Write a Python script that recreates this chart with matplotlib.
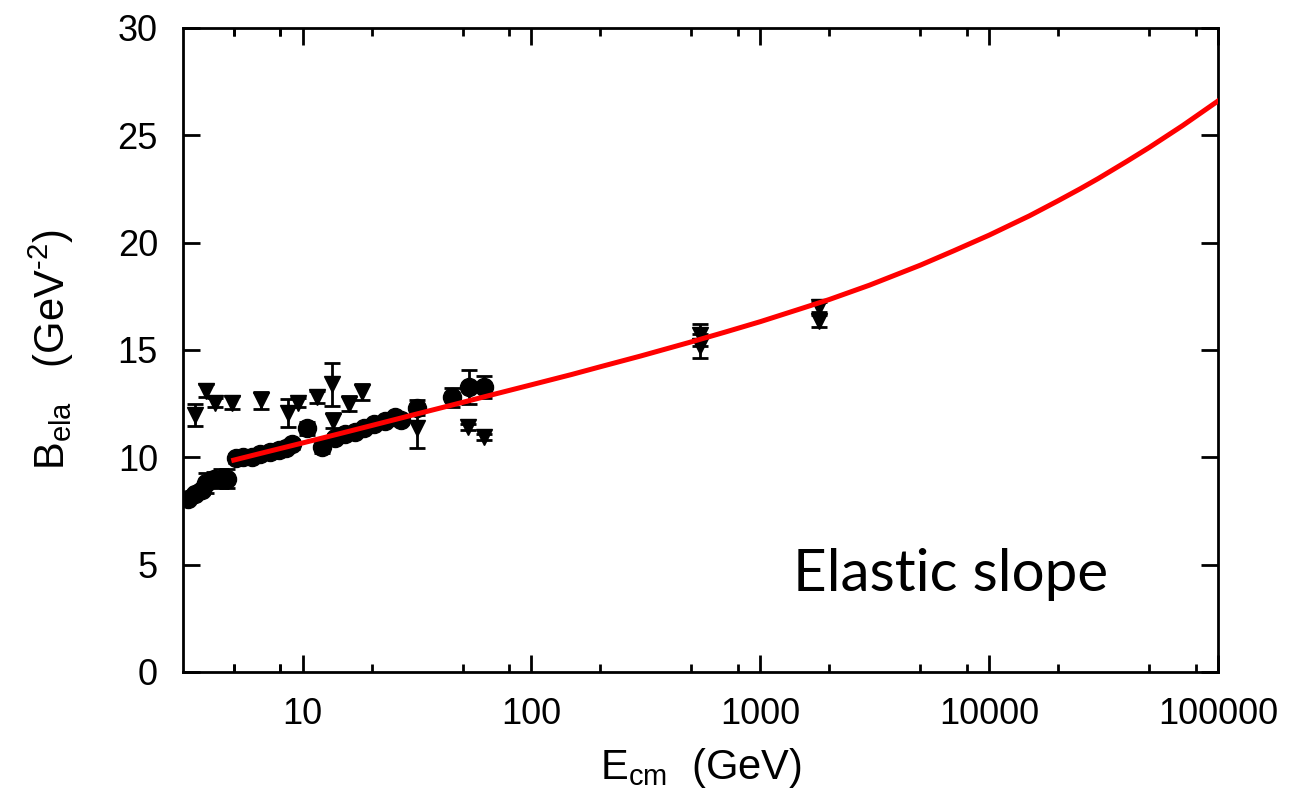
import numpy as np
import matplotlib.pyplot as plt
from matplotlib.ticker import FixedLocator, NullFormatter

plt.rcParams['font.family'] = ['Liberation Sans', 'DejaVu Sans']
plt.rcParams['mathtext.fontset'] = 'custom'
plt.rcParams['mathtext.rm'] = 'Liberation Sans'
plt.rcParams['mathtext.it'] = 'Liberation Sans'

# pp elastic slope measurements (circles)
E_pp = [3.15, 3.4, 3.65, 3.8, 4.1, 4.4, 4.65, 5.1, 5.5, 6.0, 6.5, 7.2, 7.9,
        8.5, 9.0, 10.5, 12.2, 13.8, 15.3, 16.9, 18.6, 20.6, 22.8, 25.2, 27.0,
        31.5, 44.8, 53.5, 62.3]
B_pp = [8.05, 8.3, 8.5, 8.8, 9.0, 9.0, 9.0, 9.95, 10.0, 10.0, 10.15, 10.25,
        10.35, 10.45, 10.6, 11.35, 10.5, 10.9, 11.1, 11.2, 11.35, 11.55, 11.7,
        11.9, 11.75, 12.3, 12.8, 13.27, 13.27]
dB_pp = [0.15, 0.2, 0.2, 0.45, 0.3, 0.45, 0.45, 0.2, 0.15, 0.15, 0.15, 0.15,
         0.15, 0.15, 0.2, 0.3, 0.3, 0.2, 0.2, 0.15, 0.15, 0.15, 0.15, 0.15,
         0.2, 0.35, 0.45, 0.8, 0.5]

# pbar-p elastic slope measurements (down triangles)
E_pbp = [3.37, 3.77, 4.13, 4.9, 6.6, 8.6, 9.5, 11.5, 13.4, 13.6, 16.0, 18.1,
         31.5, 52.6, 62.3, 546, 546, 1800, 1800]
B_pbp = [11.97, 13.1, 12.55, 12.55, 12.65, 12.05, 12.55, 12.8, 13.4, 11.7,
         12.5, 13.05, 11.35, 11.4, 10.95, 15.7, 15.2, 17.0, 16.35]
dB_pbp = [0.5, 0.3, 0.2, 0.3, 0.4, 0.65, 0.2, 0.28, 1.0, 0.35, 0.35, 0.38,
          0.9, 0.15, 0.15, 0.5, 0.55, 0.25, 0.3]

# model curve
E_fit = [5, 7, 10, 14, 20, 30, 50, 70, 100, 150, 200, 300, 500, 700, 1000,
         1500, 2000, 3000, 5000, 7000, 10000, 15000, 20000, 25000, 30000,
         40000, 50000, 70000, 100000]
B_fit = [9.87, 10.26, 10.67, 11.06, 11.48, 11.96, 12.56, 12.96, 13.38, 13.86,
         14.22, 14.72, 15.38, 15.83, 16.32, 16.92, 17.35, 18.02, 18.95, 19.62,
         20.35, 21.25, 21.95, 22.51, 22.99, 23.79, 24.43, 25.45, 26.6]

fig = plt.figure(figsize=(12.96, 7.93), dpi=100)
ax = fig.add_axes([0.1412, 0.1526, 0.7986, 0.8121])

ax.errorbar(E_pp, B_pp, yerr=dB_pp, fmt='o', color='black', ms=13,
            capsize=6, elinewidth=2, capthick=2, zorder=3)
ax.errorbar(E_pbp, B_pbp, yerr=dB_pbp, fmt='v', color='black', ms=12,
            capsize=6, elinewidth=2, capthick=2, zorder=3)
ax.plot(E_fit, B_fit, color='#ff0000', lw=3.6, zorder=4,
        solid_joinstyle='round')

ax.set_xscale('log')
ax.set_xlim(3, 1e5)
ax.set_ylim(0, 30)

majors = [10, 100, 1000, 10000, 100000]
ax.xaxis.set_major_locator(FixedLocator(majors))
ax.set_xticklabels([str(m) for m in majors])
minors = [m * d for d in [1, 10, 100, 1000, 10000] for m in (2, 5, 8)]
minors += [5, 8]
ax.xaxis.set_minor_locator(FixedLocator(minors))
ax.xaxis.set_minor_formatter(NullFormatter())
ax.set_yticks(range(0, 31, 5))

ax.tick_params(which='both', direction='in', top=True, right=True,
               labelsize=26, width=2)
ax.tick_params(which='major', length=12, pad=18)
ax.tick_params(which='minor', length=6)
for sp in ax.spines.values():
    sp.set_linewidth(2)

ax.set_xlabel(r'E$_{\mathregular{cm}}$  (GeV)', fontsize=30, labelpad=10)
ax.set_ylabel(r'B$_{\mathregular{ela}}$   (GeV$^{\text{-2}}$)',
              fontsize=30, labelpad=30)

ax.text(0.742, 0.151, 'Elastic slope', transform=ax.transAxes,
        fontsize=42, family=['Lato', 'DejaVu Sans'], ha='center', va='center')

fig.savefig('out.png', dpi=100)
